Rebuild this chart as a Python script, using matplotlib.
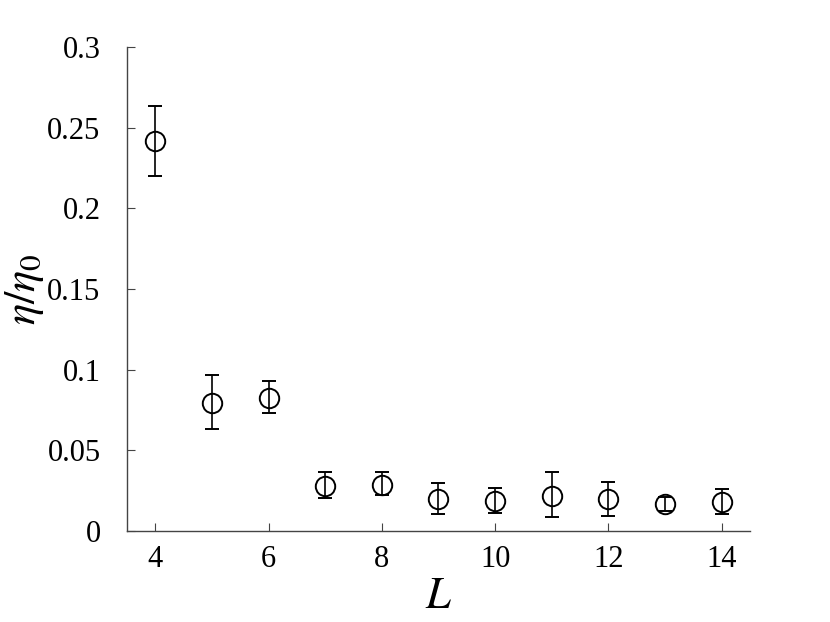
import matplotlib
matplotlib.use("Agg")
import matplotlib.pyplot as plt

plt.rcParams['font.family'] = 'serif'
plt.rcParams['font.serif'] = ['Liberation Serif', 'DejaVu Serif']
plt.rcParams['mathtext.fontset'] = 'stix'

# data
L = [4, 5, 6, 7, 8, 9, 10, 11, 12, 13, 14]
eta = [0.2417, 0.0793, 0.0824, 0.0279, 0.0288, 0.0198, 0.0186, 0.0217, 0.0198, 0.0167, 0.0180]
err_hi = [0.2635, 0.0967, 0.0930, 0.0366, 0.0366, 0.0298, 0.0267, 0.0366, 0.0304, 0.0210, 0.0260]
err_lo = [0.2200, 0.0632, 0.0731, 0.0205, 0.0223, 0.0105, 0.0112, 0.0087, 0.0093, 0.0124, 0.0105]

yerr = [[e - lo for e, lo in zip(eta, err_lo)], [hi - e for e, hi in zip(eta, err_hi)]]

fig = plt.figure(figsize=(8.3, 6.22), dpi=100)
ax = fig.add_axes([0.153, 0.1463, 0.7506, 0.7781])

ax.errorbar(L, eta, yerr=yerr, fmt='o', mfc='none', mec='black', ms=14, mew=1.4,
            ecolor='black', elinewidth=1.2, capsize=5, capthick=1.2)

ax.set_xlim(3.5, 14.5)
ax.set_ylim(0, 0.3)
ax.set_xticks([4, 6, 8, 10, 12, 14])
ax.set_yticks([0, 0.05, 0.1, 0.15, 0.2, 0.25, 0.3])
ax.set_yticklabels(['0', '0.05', '0.1', '0.15', '0.2', '0.25', '0.3'])

for s in ['top', 'right']:
    ax.spines[s].set_visible(False)
for s in ['left', 'bottom']:
    ax.spines[s].set_color('#444444')
    ax.spines[s].set_linewidth(1.0)
ax.tick_params(direction='in', length=6, color='#444444', labelsize=22)
ax.tick_params(axis='y', pad=19)
ax.tick_params(axis='x', pad=10)

ax.set_xlabel(r'$L$', fontsize=32, labelpad=2)
ax.set_ylabel(r'$\eta/\eta_0$', fontsize=32)
ax.yaxis.set_label_coords(-0.13, 0.5)

fig.savefig('out.png', dpi=100)
